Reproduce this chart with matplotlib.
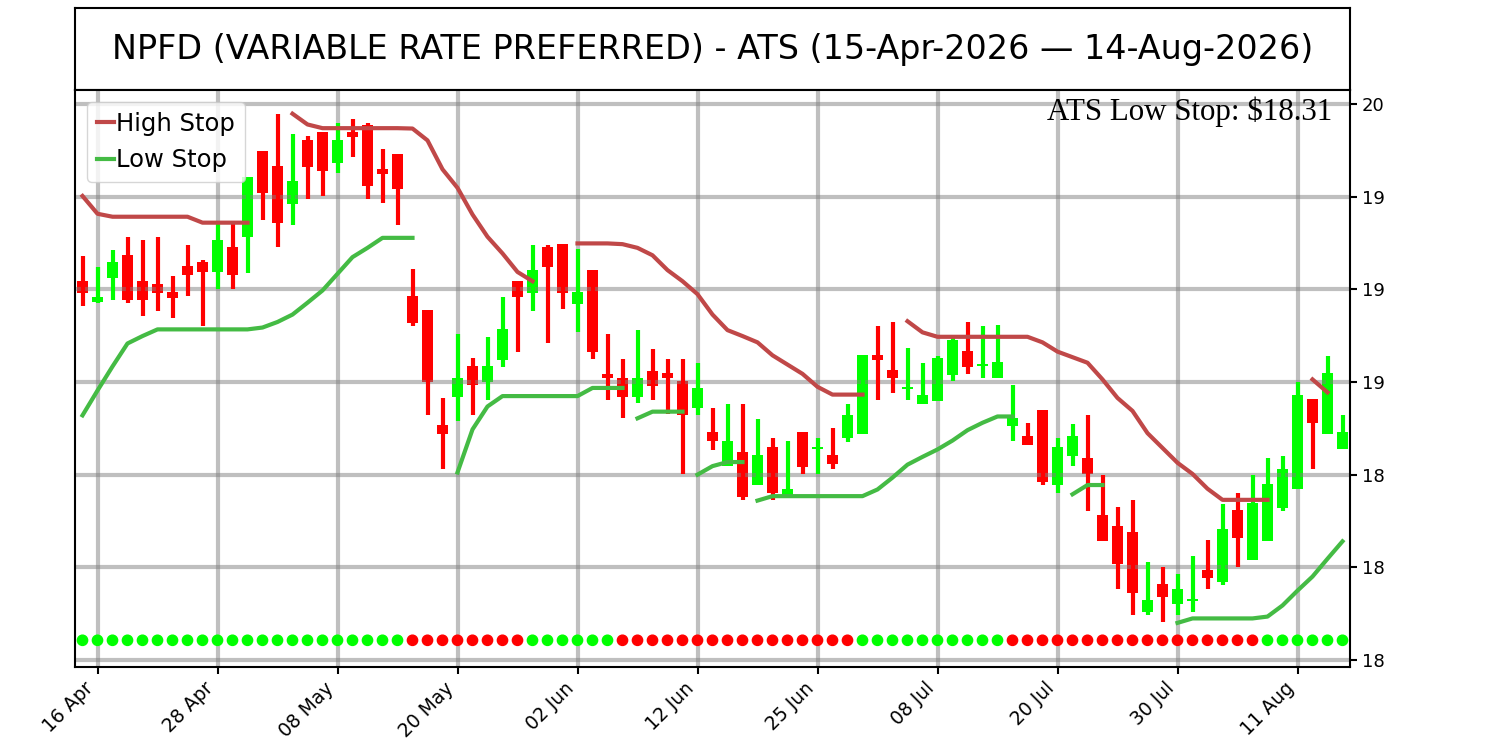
import matplotlib
matplotlib.use("Agg")
import matplotlib.pyplot as plt
from matplotlib.ticker import FormatStrFormatter
import numpy as np
import pandas as pd

# trading days (NYSE holidays removed)
holidays = ["2026-05-25", "2026-06-19", "2026-07-03"]
dates = pd.bdate_range("2026-04-15", "2026-08-14", freq="C", holidays=holidays)

title = "NPFD (VARIABLE RATE PREFERRED) - ATS (15-Apr-2026 \u2014 14-Aug-2026)"
stop_text = r"ATS Low Stop: \$18.31"

opens = [19.022, 18.967, 19.030, 19.092, 19.022, 19.014, 18.994, 19.062, 19.074, 19.048,
         19.114, 19.140, 19.374, 19.334, 19.230, 19.404, 19.424, 19.342, 19.424, 19.444,
         19.324, 19.364, 18.982, 18.944, 18.634, 18.710, 18.792, 18.750, 18.810, 19.022,
         18.990, 19.114, 19.122, 18.960, 19.052, 18.772, 18.762, 18.710, 18.780, 18.774,
         18.752, 18.680, 18.614, 18.524, 18.562, 18.472, 18.574, 18.444, 18.614, 18.570,
         18.552, 18.600, 18.610, 18.824, 18.782, 18.730, 18.690, 18.700, 18.770, 18.834,
         18.794, 18.760, 18.630, 18.604, 18.674, 18.472, 18.550, 18.544, 18.392, 18.362,
         18.344, 18.130, 18.204, 18.150, 18.158, 18.244, 18.210, 18.404, 18.270, 18.320,
         18.410, 18.460, 18.704, 18.610, 18.570]
highs = [19.090, 19.060, 19.106, 19.142, 19.132, 19.142, 19.036, 19.120, 19.080, 19.180,
         19.176, 19.304, 19.374, 19.472, 19.420, 19.414, 19.424, 19.450, 19.460, 19.450,
         19.380, 19.364, 19.054, 18.944, 18.706, 18.880, 18.816, 18.872, 18.980, 19.022,
         19.120, 19.120, 19.122, 19.110, 19.052, 18.880, 18.812, 18.890, 18.838, 18.812,
         18.812, 18.800, 18.680, 18.690, 18.690, 18.650, 18.600, 18.590, 18.614, 18.600,
         18.626, 18.690, 18.822, 18.900, 18.912, 18.842, 18.800, 18.820, 18.872, 18.912,
         18.900, 18.904, 18.742, 18.640, 18.674, 18.600, 18.636, 18.662, 18.500, 18.412,
         18.432, 18.264, 18.250, 18.232, 18.280, 18.324, 18.420, 18.450, 18.500, 18.544,
         18.550, 18.750, 18.704, 18.820, 18.660]
lows = [18.954, 18.964, 18.972, 18.962, 18.927, 18.942, 18.922, 18.982, 18.902, 19.002,
        19.002, 19.044, 19.186, 19.114, 19.174, 19.244, 19.252, 19.314, 19.356, 19.244,
        19.232, 19.174, 18.902, 18.662, 18.514, 18.644, 18.662, 18.702, 18.790, 18.832,
        18.942, 18.856, 18.948, 18.886, 18.812, 18.702, 18.652, 18.694, 18.702, 18.664,
        18.502, 18.662, 18.567, 18.522, 18.432, 18.472, 18.432, 18.444, 18.502, 18.502,
        18.514, 18.587, 18.610, 18.702, 18.720, 18.702, 18.690, 18.700, 18.752, 18.772,
        18.762, 18.760, 18.592, 18.580, 18.472, 18.450, 18.522, 18.402, 18.320, 18.192,
        18.122, 18.122, 18.102, 18.122, 18.130, 18.192, 18.202, 18.252, 18.270, 18.320,
        18.402, 18.460, 18.514, 18.610, 18.570]
closes = [18.990, 18.980, 19.074, 18.970, 18.970, 18.990, 18.978, 19.040, 19.048, 19.134,
          19.040, 19.304, 19.260, 19.178, 19.292, 19.330, 19.320, 19.404, 19.412, 19.278,
          19.312, 19.270, 18.910, 18.750, 18.610, 18.762, 18.742, 18.792, 18.892, 18.980,
          19.052, 19.060, 18.990, 18.992, 18.830, 18.760, 18.710, 18.762, 18.740, 18.760,
          18.660, 18.734, 18.590, 18.592, 18.440, 18.552, 18.450, 18.462, 18.520, 18.574,
          18.530, 18.662, 18.822, 18.810, 18.760, 18.736, 18.714, 18.814, 18.864, 18.790,
          18.798, 18.804, 18.654, 18.580, 18.480, 18.574, 18.604, 18.502, 18.320, 18.260,
          18.180, 18.162, 18.170, 18.192, 18.164, 18.220, 18.352, 18.330, 18.424, 18.474,
          18.514, 18.714, 18.640, 18.774, 18.614]

# stop lines, one piece per (first bar, values)
high_stop = [
    (0, [19.252, 19.204, 19.196, 19.196, 19.196, 19.196, 19.196, 19.196, 19.180, 19.180,
         19.180, 19.180]),
    (14, [19.474, 19.445, 19.435, 19.435, 19.435, 19.435, 19.435, 19.435, 19.434, 19.402,
          19.324, 19.274, 19.202, 19.142, 19.097, 19.047, 19.022]),
    (33, [19.124, 19.124, 19.124, 19.122, 19.112, 19.092, 19.052, 19.022, 18.987, 18.932,
          18.890, 18.874, 18.857, 18.822, 18.797, 18.772, 18.737, 18.716, 18.716, 18.716]),
    (55, [18.914, 18.884, 18.872, 18.872, 18.872, 18.872, 18.872, 18.872, 18.872, 18.857,
          18.832, 18.817, 18.802, 18.757, 18.707, 18.672, 18.612, 18.572, 18.532, 18.502,
          18.462, 18.432, 18.432, 18.432, 18.432]),
    (82, [18.757, 18.722]),
]
low_stop = [
    (0, [18.660, 18.727, 18.792, 18.854, 18.874, 18.892, 18.892, 18.892, 18.892, 18.892,
         18.892, 18.892, 18.897, 18.912, 18.932, 18.964, 18.997, 19.042, 19.087, 19.112,
         19.139, 19.139, 19.139]),
    (25, [18.506, 18.622, 18.684, 18.712, 18.712, 18.712, 18.712, 18.712, 18.712, 18.734,
          18.734, 18.734]),
    (37, [18.652, 18.670, 18.670, 18.670]),
    (41, [18.500, 18.523, 18.534, 18.534]),
    (45, [18.430, 18.442, 18.442, 18.442, 18.442, 18.442, 18.442, 18.442, 18.460, 18.492,
          18.527, 18.548, 18.568, 18.592, 18.620, 18.640, 18.657, 18.657]),
    (66, [18.447, 18.472, 18.472]),
    (73, [18.100, 18.112, 18.112, 18.112, 18.112, 18.112, 18.117, 18.147, 18.187, 18.225,
          18.273, 18.320]),
]

# signal dots along the bottom: G = long, R = out
dot_state = ("GGGGGGGGGGGGGGGGGGGGGG" "RRRRRRRR" "GGGGGG" "RRRRRRRRRRRRRRRR"
             "GGGGGGGGGG" "RRRRRRRRRRRRRRRRR" "GGGGGG")
dot_level = 18.053

x = np.arange(len(dates))
o = np.array(opens)
c = np.array(closes)
up = c >= o
candle_col = np.where(up, "#00ff00", "#ff0000")

fig = plt.figure(figsize=(15, 7.5), dpi=100)

ax_t = fig.add_axes([0.05, 0.88, 0.85, 0.1093])
ax_t.set_xticks([])
ax_t.set_yticks([])
ax_t.text(0.5, 0.5, title, ha="center", va="center", fontsize=24,
          transform=ax_t.transAxes)
for s in ax_t.spines.values():
    s.set_linewidth(1.5)

ax = fig.add_axes([0.05, 0.1107, 0.85, 0.7693])

ax.bar(x, np.abs(c - o), bottom=np.minimum(o, c), width=0.7, color=candle_col)
ax.vlines(x, lows, highs, colors=candle_col, linewidth=3)

for i, (start, vals) in enumerate(high_stop):
    ax.plot(np.arange(start, start + len(vals)), vals, color="#c04848", linewidth=3,
            label="High Stop" if i == 0 else None)
for i, (start, vals) in enumerate(low_stop):
    ax.plot(np.arange(start, start + len(vals)), vals, color="#44bb44", linewidth=3,
            label="Low Stop" if i == 0 else None)

dot_col = ["#00ff00" if s == "G" else "#ff0000" for s in dot_state]
ax.scatter(x, [dot_level] * len(x), c=dot_col, s=55, zorder=2)

ax.text(0.986, 0.948, stop_text, transform=ax.transAxes, ha="right", va="baseline",
        fontsize=22.3, family="Liberation Serif")

ax.set_xlim(-0.5, len(x) - 0.5)
ax.set_ylim(17.981, 19.538)

tick_pos = x[1::8]
ax.set_xticks(tick_pos)
ax.set_xticklabels(dates[1::8].strftime("%d %b"), rotation=45, ha="right", fontsize=13.5)

ax.yaxis.tick_right()
ax.set_yticks(np.arange(18.0, 19.51, 0.25))
ax.yaxis.set_major_formatter(FormatStrFormatter("%.0f"))
ax.tick_params(axis="y", labelsize=13)
ax.tick_params(length=5, width=1.5)

ax.grid(True, color="gray", alpha=0.5, linewidth=3)
for s in ax.spines.values():
    s.set_linewidth(1.5)

ax.legend(loc="upper left", fontsize=17.5, handlelength=0.7, handletextpad=0.1)

plt.savefig("out.png", dpi=100)
